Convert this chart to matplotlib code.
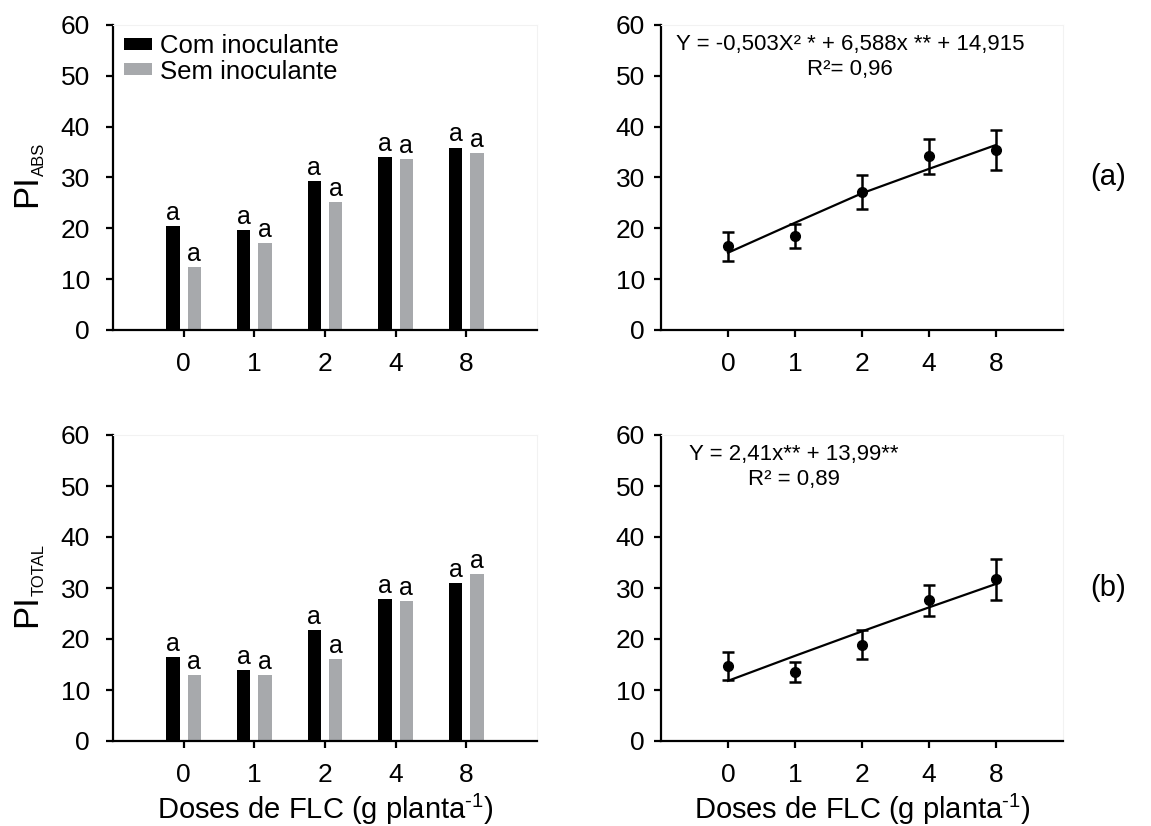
import numpy as np
import matplotlib
matplotlib.use("Agg")
import matplotlib.pyplot as plt

plt.rcParams['font.family'] = ['Liberation Sans', 'DejaVu Sans']
plt.rcParams['mathtext.fontset'] = 'custom'
plt.rcParams['mathtext.rm'] = 'Liberation Sans'
plt.rcParams['mathtext.it'] = 'Liberation Sans'

doses = ["0", "1", "2", "4", "8"]

# PI_ABS bars
abs_com = [20.5, 19.6, 29.3, 34.1, 35.9]
abs_sem = [12.4, 17.2, 25.1, 33.6, 34.9]
# PI_TOTAL bars
total_com = [16.5, 13.9, 21.7, 27.8, 30.9]
total_sem = [13.0, 13.0, 16.1, 27.4, 32.7]
letters_abs_com = ["a"] * 5
letters_abs_sem = ["a"] * 5
letters_total_com = ["a"] * 5
letters_total_sem = ["a"] * 5

# means over inoculation, with error bars
abs_mean = [16.6, 18.5, 27.2, 34.2, 35.4]
abs_err_low = [13.6, 16.1, 23.9, 30.7, 31.4]
abs_err_high = [19.3, 20.9, 30.5, 37.6, 39.4]
abs_fit = [15.2, 21.1, 26.9, 31.7, 36.4]

total_mean = [14.7, 13.5, 18.8, 27.6, 31.7]
total_err_low = [11.9, 11.5, 16.0, 24.5, 27.7]
total_err_high = [17.5, 15.4, 21.7, 30.5, 35.6]
total_fit = [11.8, 16.7, 21.5, 26.2, 30.8]

eq_abs = "Y = -0,503X² * + 6,588x ** + 14,915\nR²= 0,96"
eq_total = "Y = 2,41x** + 13,99**\nR² = 0,89"
xlabel = "Doses de FLC (g planta$^{\\mathregular{\\text{-}1}}$)"

BLACK = "#000000"
GREY = "#a7a9ac"
W, H = 1151, 826

fig = plt.figure(figsize=(W / 100, H / 100), dpi=100)


def make_axes(x0, x1, y0, y1):
    return fig.add_axes([x0 / W, 1 - y1 / H, (x1 - x0) / W, (y1 - y0) / H])


def style(ax, ypad):
    ax.set_xlim(-1, 5)
    ax.set_ylim(0, 60)
    ax.set_yticks(range(0, 61, 10))
    ax.set_xticks(range(5))
    ax.set_xticklabels(doses)
    for s in ["top", "right"]:
        ax.spines[s].set_color("#f2f2f2")
        ax.spines[s].set_linewidth(0.8)
    for s in ["left", "bottom"]:
        ax.spines[s].set_linewidth(1.6)
    ax.tick_params(axis="both", labelsize=19, width=1.6, length=5, direction="out")
    ax.tick_params(axis="y", pad=ypad)
    ax.tick_params(axis="x", pad=11)


def pi_label(base, sub, y_start):
    # big "PI" with a small subscript, both rotated and set on a shared baseline
    kw = dict(rotation=90, rotation_mode="anchor", ha="left", va="baseline")
    fig.text(36 / W, 1 - y_start / H, base, fontsize=25, **kw)
    fig.text(43.5 / W, 1 - (y_start - 31) / H, sub, fontsize=12, **kw)


def bars(ax, com, sem, lcom, lsem, legend=False):
    x = np.arange(len(doses))
    w = 0.19
    ax.bar(x - 0.15, com, w, color=BLACK, label="Com inoculante")
    ax.bar(x + 0.15, sem, w, color=GREY, label="Sem inoculante")
    for xi, v, t in zip(x - 0.15, com, lcom):
        ax.text(xi, v + 0.2, t, ha="center", va="bottom", fontsize=18)
    for xi, v, t in zip(x + 0.15, sem, lsem):
        ax.text(xi, v + 0.2, t, ha="center", va="bottom", fontsize=18)
    style(ax, 11.5)
    if legend:
        ax.legend(loc="upper left", frameon=False, fontsize=18.5, handlelength=1.1,
                  handleheight=0.35, handletextpad=0.3, labelspacing=0.05,
                  borderaxespad=0.2, bbox_to_anchor=(-0.01, 1.02))


def trend(ax, mean, lo, hi, fit, eq, eqx):
    x = np.arange(len(doses))
    mean = np.array(mean)
    yerr = [mean - np.array(lo), np.array(hi) - mean]
    ax.errorbar(x, mean, yerr=yerr, fmt="o", color=BLACK, markersize=7,
                elinewidth=1.8, capsize=4, capthick=1.8)
    ax.plot(x, fit, color=BLACK, linewidth=1.6)
    ax.text(eqx, 0.97, eq, transform=ax.transAxes, ha="center", va="top",
            fontsize=16, linespacing=1.25)
    style(ax, 6.5)


ax1 = make_axes(113, 537, 25, 330)
bars(ax1, abs_com, abs_sem, letters_abs_com, letters_abs_sem, legend=True)
pi_label("PI", "ABS", 207)

ax2 = make_axes(661, 1063, 25, 330)
trend(ax2, abs_mean, abs_err_low, abs_err_high, abs_fit, eq_abs, 0.47)

ax3 = make_axes(113, 537, 435, 741)
bars(ax3, total_com, total_sem, letters_total_com, letters_total_sem)
pi_label("PI", "TOTAL", 627)
ax3.set_xlabel(xlabel, fontsize=21, labelpad=3)

ax4 = make_axes(661, 1063, 435, 741)
trend(ax4, total_mean, total_err_low, total_err_high, total_fit, eq_total, 0.33)
ax4.set_xlabel(xlabel, fontsize=21, labelpad=3)

fig.text(1108 / W, 1 - 177 / H, "(a)", fontsize=21, ha="center", va="center")
fig.text(1108 / W, 1 - 588 / H, "(b)", fontsize=21, ha="center", va="center")

fig.savefig("out.png", dpi=100)
